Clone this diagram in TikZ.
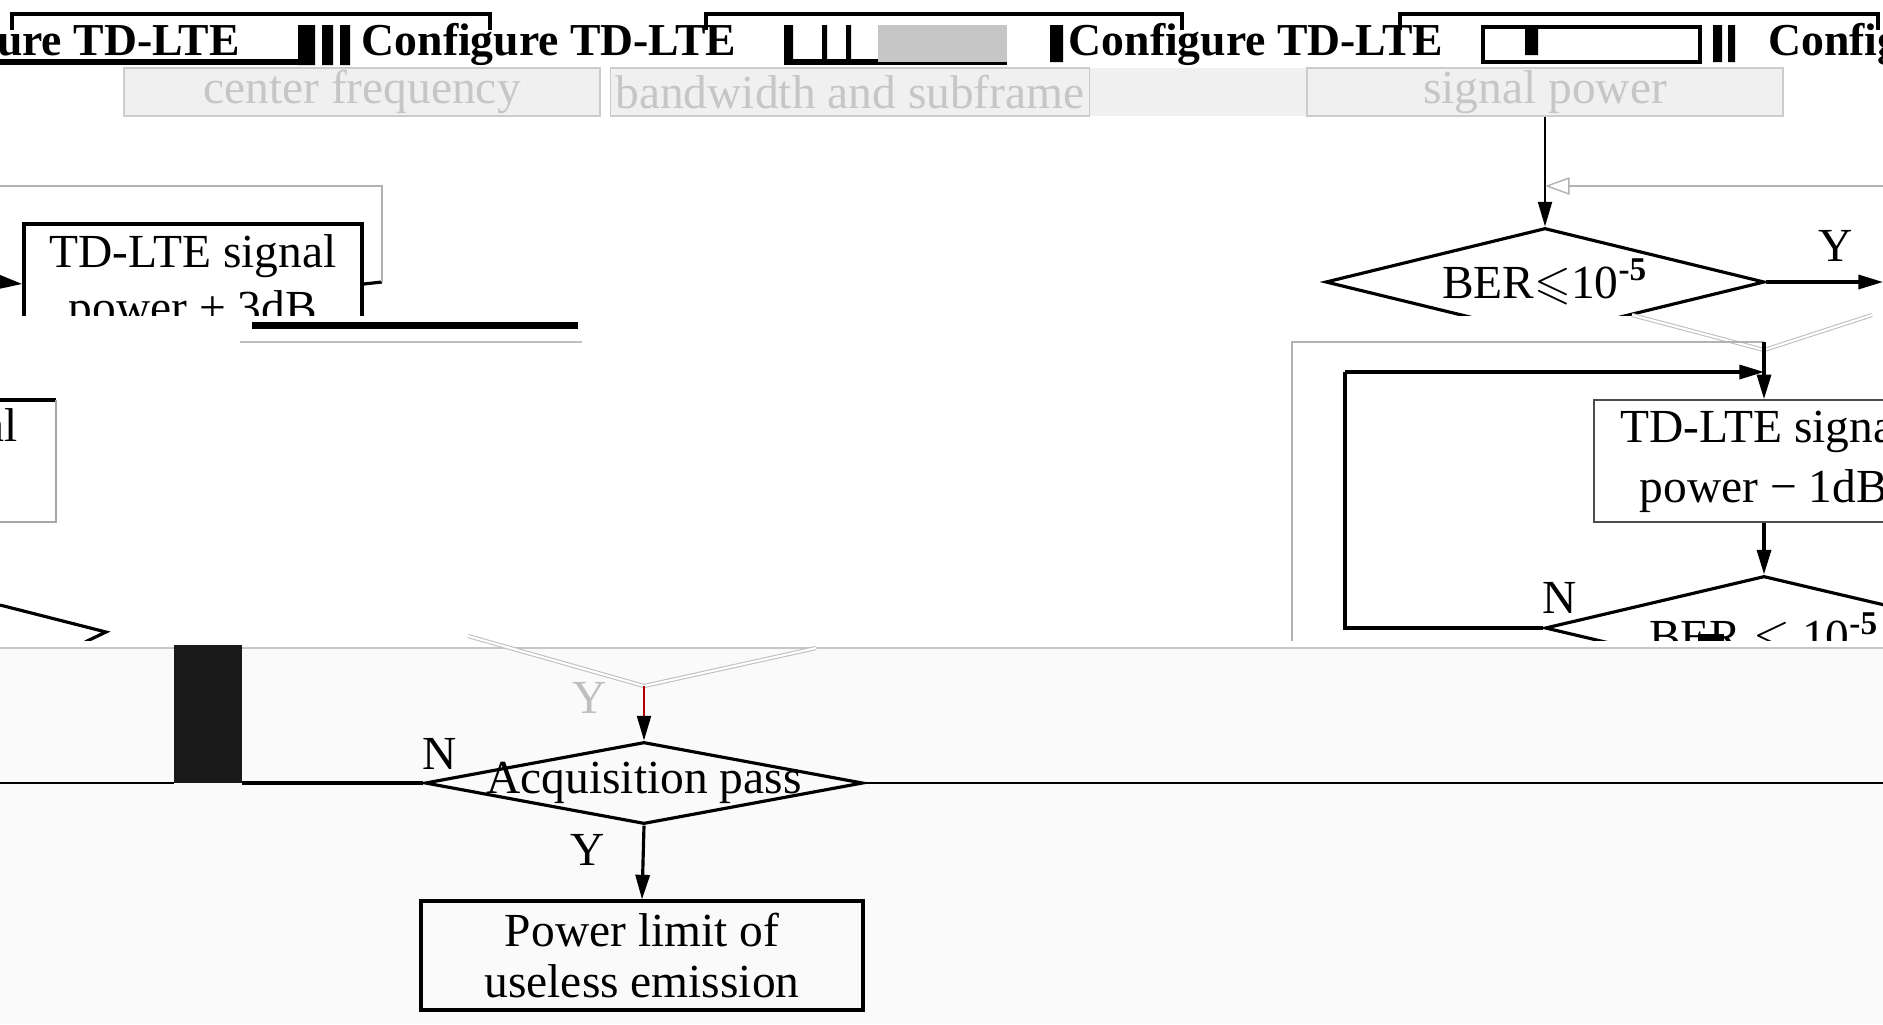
\documentclass[tikz,border=0pt]{standalone}
\usepackage{fontspec}
\usepackage{amssymb}
\setmainfont{Liberation Serif}
\usetikzlibrary{shapes.geometric,arrows.meta}
\tikzset{
  stepbox/.style={draw, line width=0.9pt, align=center, inner sep=0pt},
  decision/.style={draw, diamond, line width=0.9pt, inner sep=0pt},
  ghostbox/.style={draw=gray!40, fill=gray!12, text=gray!45, inner sep=0pt, minimum height=0.48cm},
  flow/.style={line width=0.9pt, -{Triangle[length=7pt,width=4pt]}},
  thinflow/.style={line width=0.5pt, -{Triangle[length=7pt,width=4pt]}},
  ghostline/.style={draw=gray!50, double, double distance=0.6pt, line width=0.3pt},
}
\begin{document}
\begin{tikzpicture}[font=\fontsize{13.5}{16}\selectfont]
	\useasboundingbox (0,0) rectangle (18.83,-10.24);
	\fill[gray!4] (0,-6.48) rectangle (18.83,-10.24);
	\draw[gray!45] (0,-6.48)--(18.83,-6.48);
	% top row
	\draw[line width=0.9pt] (0.12,-0.30) |- (4.90,-0.14)--(4.90,-0.30) (7.06,-0.30) |- (11.82,-0.14)--(11.82,-0.30) (14.00,-0.30) |- (18.78,-0.14)--(18.78,-0.30);
	\node[anchor=east, font=\fontsize{13}{16}\bfseries] (cfg1) at (2.52,-0.44) {Configure TD-LTE};
	\node[font=\fontsize{13}{16}\bfseries] (cfg2) at (5.49,-0.44) {Configure TD-LTE};
	\node[font=\fontsize{13}{16}\bfseries] (cfg3) at (12.56,-0.44) {Configure TD-LTE};
	\node[anchor=west, font=\fontsize{13}{16}\bfseries] (cfg4) at (17.56,-0.44) {Configure TD-LTE};
	\draw[line width=1.5pt] (0,-0.62)--(3.00,-0.62) (7.84,-0.62)--(10.07,-0.62);
	\fill (2.98,-0.25) rectangle (3.15,-0.65) (3.22,-0.25) rectangle (3.33,-0.65) (3.40,-0.25) rectangle (3.50,-0.65);
	\fill (7.84,-0.25) rectangle (7.93,-0.62) (8.22,-0.25) rectangle (8.27,-0.62) (8.46,-0.25) rectangle (8.51,-0.62) (10.50,-0.25) rectangle (10.63,-0.62);
	\fill[gray!45] (8.78,-0.25) rectangle (10.07,-0.62);
	\draw[line width=0.9pt] (14.83,-0.27) rectangle (17.00,-0.62);
	\fill (15.25,-0.27) rectangle (15.38,-0.55) (17.13,-0.25) rectangle (17.22,-0.62) (17.28,-0.25) rectangle (17.35,-0.62);
	\node[ghostbox, minimum width=4.76cm] (cf) at (3.62,-0.92) {center frequency};
	\node[ghostbox, minimum width=4.79cm] (bw) at (8.50,-0.92) {bandwidth and subframe};
	\fill[gray!12] (10.90,-0.68) rectangle (13.06,-1.16);
	\node[ghostbox, minimum width=4.76cm] (sp) at (15.45,-0.92) {signal power};
	% upper band
	\begin{scope}
		\clip (0,-1.10) rectangle (18.83,-3.15);
		\node[decision, minimum width=4.39cm, minimum height=1.08cm, label={center:{BER$\leqslant$10\textsuperscript{\textbf{-5}}}}] (ber1) at (15.45,-2.82) {};
		\coordinate (yend) at (18.83,-2.82);
		\coordinate (fb) at (18.83,-1.86);
		\draw[thinflow] (sp.south)--(ber1.north);
		\draw[gray!60, -{Triangle[open,length=7pt,width=5pt]}] (fb)--(fb -| sp.south);
		\draw[flow] (ber1.east)--(yend);
		\node (y1) at (18.36,-2.46) {Y};
		\node[stepbox, minimum width=3.38cm, minimum height=1.20cm, font=\fontsize{13.5}{15.7}\selectfont] (plus3) at (1.93,-2.84) {TD-LTE signal\\power + 3dB};
		\coordinate (in3) at (0,-2.82);
		\coordinate (out3) at (3.82,-2.82);
		\draw[flow] (in3)--(plus3.west);
		\draw[line width=0.9pt] (plus3.east)--(out3);
		\draw[gray!60] (0,-1.86) -| (out3);
	\end{scope}
	% glitch strip
	\fill (2.52,-3.22) rectangle (5.78,-3.29);
	\draw[gray!50] (2.40,-3.42)--(5.82,-3.42);
	\draw[ghostline] (16.32,-3.15)--(17.64,-3.50)--(18.72,-3.15);
	% middle band
	\begin{scope}
		\clip (0,-3.40) rectangle (18.83,-6.40);
		\node[anchor=east] (left) at (0.30,-4.30) {TD-LTE signal};
		\draw[line width=0.9pt] (0,-4.00)--(0.56,-4.00);
		\draw[gray!70] (0.56,-4.00) |- (0,-5.22);
		\draw[line width=0.9pt] (0,-6.05)--(1.06,-6.32)--(0.85,-6.42);
		\draw[gray!60] (12.92,-6.44) |- (17.64,-3.42);
		\node[draw=black!70, line width=0.5pt, align=center, inner sep=0pt, minimum width=3.40cm, minimum height=1.22cm, font=\fontsize{13.5}{17}\selectfont] (minus1) at (17.64,-4.61) {TD-LTE signal\\power − 1dB};
		\node[decision, minimum width=4.38cm, minimum height=1.04cm, label={[yshift=-0.08cm]center:{BER $\leqslant$ 10\textsuperscript{\textbf{-5}}}}] (ber2) at (17.64,-6.28) {};
		\coordinate (top1) at (17.64,-3.42);
		\coordinate (join) at (17.64,-3.72);
		\coordinate (nloop) at (13.45,-3.72);
		\draw[flow] (top1)--(minus1.north);
		\draw[flow] (minus1.south)--(ber2.north);
		\draw[line width=0.9pt] (ber2.west) -| (nloop);
		\draw[flow] (nloop)--(join);
		\node (n2) at (15.60,-5.98) {N};
		\fill (16.98,-6.34) rectangle (17.24,-6.44);
	\end{scope}
	% lower band
	\fill[black!90] (1.74,-6.45) rectangle (2.42,-7.83);
	\draw[ghostline] (4.68,-6.36)--(6.44,-6.86)--(8.16,-6.48);
	\coordinate (vbot) at (6.44,-6.86);
	\node[text=gray!50] (ghosty) at (5.90,-6.98) {Y};
	\node[decision, minimum width=4.38cm, minimum height=0.82cm, label={center:{Acquisition pass}}] (acq) at (6.44,-7.83) {};
	\node[stepbox, minimum width=4.42cm, minimum height=1.09cm, font=\fontsize{13.5}{14.5}\selectfont] (limit) at (6.42,-9.555) {Power limit of\\useless emission};
	\coordinate (nend) at (2.42,-7.83);
	\draw[red!70!black, line width=0.5pt, -{Triangle[length=7pt,width=4pt,color=black]}] (vbot)--(acq.north);
	\draw[line width=0.9pt] (acq.west)--(nend);
	\draw[line width=0.5pt] (0,-7.83)--(1.74,-7.83) (acq.east)--(18.83,-7.83);
	\draw[flow] (acq.south)--(limit.north);
	\node (n1) at (4.40,-7.54) {N};
	\node (y2) at (5.88,-8.50) {Y};
\end{tikzpicture}
\end{document}
